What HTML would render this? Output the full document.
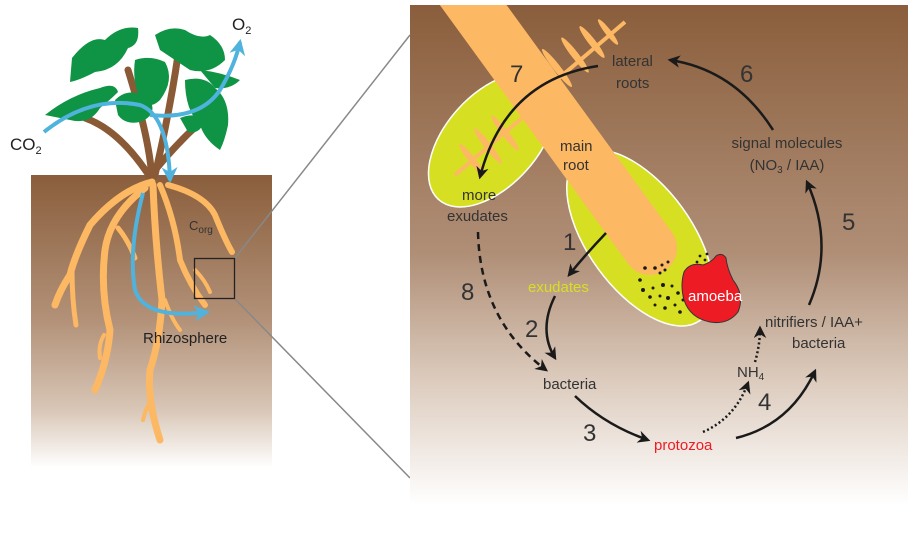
<!DOCTYPE html>
<html><head><meta charset="utf-8"><style>
html,body{margin:0;padding:0;background:#fff}
svg{display:block}
text{font-family:"Liberation Sans",sans-serif}
</style></head><body>
<svg width="914" height="537" viewBox="0 0 914 537" xmlns="http://www.w3.org/2000/svg">
<defs>
<linearGradient id="gl" x1="0" y1="0" x2="0" y2="1">
<stop offset="0" stop-color="#8a5e3c"/><stop offset="0.5" stop-color="#b39279"/><stop offset="0.8" stop-color="#d8c6b6"/><stop offset="1" stop-color="#fff"/></linearGradient>
<linearGradient id="gr" x1="0" y1="0" x2="0" y2="1">
<stop offset="0" stop-color="#8a5e3c"/><stop offset="0.5" stop-color="#b08f77"/><stop offset="0.75" stop-color="#dccbbd"/><stop offset="1" stop-color="#fff"/></linearGradient>
<clipPath id="cp"><rect x="410" y="5" width="498" height="500"/></clipPath>
<marker id="ab" viewBox="0 0 10 10" refX="8" refY="5" markerWidth="5" markerHeight="5" orient="auto"><path d="M0,0 L10,5 L0,10 L3,5z" fill="#1a1a1a"/></marker>
<marker id="aq" viewBox="0 0 10 10" refX="8" refY="5" markerWidth="4" markerHeight="4" orient="auto"><path d="M0,0 L10,5 L0,10 L3,5z" fill="#4fb3dd"/></marker>
</defs>
<rect x="31" y="175" width="241" height="293" fill="url(#gl)"/>
<g stroke="#8a5a36" stroke-width="7" fill="none" stroke-linecap="round">
<path d="M152,180 Q150,140 128,70"/><path d="M152,180 Q120,130 85,118"/><path d="M155,175 Q170,110 178,55"/><path d="M155,170 Q180,140 205,118"/>
</g>
<g fill="#0e9444">
<path d="M72,58 Q90,35 105,40 Q120,25 138,28 Q140,45 128,48 Q118,70 95,72 Q80,80 70,82z"/>
<path d="M45,115 Q70,95 100,88 Q115,82 118,92 Q110,100 100,108 Q90,125 70,120z"/>
<path d="M115,100 Q130,85 150,100 Q158,115 140,122 Q125,125 118,115z"/>
<path d="M135,60 Q150,55 165,62 Q175,80 160,100 Q150,110 140,100 Q132,80 135,60z"/>
<path d="M155,35 Q170,25 185,30 Q200,40 210,35 Q225,45 225,60 Q210,75 190,70 Q175,60 160,50z"/>
<path d="M185,80 Q205,75 215,88 Q230,100 228,125 Q225,140 220,150 Q205,140 200,125 Q185,110 185,80z"/>
<path d="M200,70 Q220,72 240,80 Q230,90 215,88z"/>
<path d="M180,118 Q195,112 205,120 Q200,135 188,132z"/>
</g>
<g stroke="#fdb863" fill="none" stroke-linecap="round" stroke-width="7">
<path d="M152,182 Q120,190 90,225 Q75,255 70,275 Q60,290 55,305"/>
<path d="M72,270 Q72,300 76,325" stroke-width="5"/>
<path d="M145,188 Q110,215 105,250 Q100,290 110,330 Q108,360 95,390"/>
<path d="M104,335 Q98,345 100,358" stroke-width="4"/>
<path d="M118,228 Q128,240 135,258" stroke-width="5"/>
<path d="M153,185 Q155,240 162,300 Q160,340 150,370 Q147,400 160,440"/>
<path d="M151,400 Q145,410 143,420" stroke-width="4"/>
<path d="M160,185 Q175,220 180,260 Q190,285 205,305" stroke-width="6"/>
<path d="M168,185 Q205,195 215,215 Q225,240 232,252" stroke-width="6"/>
<path d="M195,270 Q205,280 210,292" stroke-width="4"/>
<path d="M165,300 Q172,320 180,330" stroke-width="4"/>
</g>
<g stroke="#4fb3dd" stroke-width="4" fill="none">
<path d="M44,132 Q90,95 140,105 Q168,115 170,180" marker-end="url(#aq)"/>
<path d="M150,115 Q200,120 220,90 Q235,65 240,42" marker-end="url(#aq)"/>
<path d="M143,193 Q128,250 135,290 Q145,320 207,312" marker-end="url(#aq)"/>
</g>
<rect x="194.5" y="258.5" width="40" height="40" fill="none" stroke="#222" stroke-width="1.3"/>
<line x1="235" y1="258" x2="410" y2="35" stroke="#888" stroke-width="1.5"/>
<line x1="235" y1="299" x2="410" y2="478" stroke="#888" stroke-width="1.5"/>
<text x="10" y="150" font-size="17" fill="#222">CO<tspan font-size="11" dy="4">2</tspan></text>
<text x="232" y="30" font-size="17" fill="#222">O<tspan font-size="11" dy="4">2</tspan></text>
<text x="189" y="230" font-size="13" fill="#333">C<tspan font-size="10" dy="3">org</tspan></text>
<text x="143" y="343" font-size="15" fill="#222">Rhizosphere</text>
<rect x="410" y="5" width="498" height="500" fill="url(#gr)"/>
<g clip-path="url(#cp)">
<ellipse cx="492" cy="140" rx="80" ry="46" transform="rotate(-48 492 140)" fill="#d7df23" stroke="#fff" stroke-width="1.5"/>
<ellipse cx="640" cy="238" rx="102" ry="52" transform="rotate(54 640 238)" fill="#d7df23" stroke="#fff" stroke-width="1.5"/>
<line x1="455" y1="-20" x2="650" y2="248" stroke="#fdb863" stroke-width="54" stroke-linecap="round"/>
<g fill="#fdb863">
<line x1="545" y1="90" x2="625" y2="22" stroke="#fdb863" stroke-width="4"/>
<ellipse cx="557" cy="68" rx="24" ry="3.5" transform="rotate(52 557 68)"/>
<ellipse cx="575" cy="55" rx="22" ry="3.5" transform="rotate(52 575 55)"/>
<ellipse cx="592" cy="42" rx="20" ry="3.5" transform="rotate(52 592 42)"/>
<ellipse cx="608" cy="32" rx="16" ry="3" transform="rotate(52 608 32)"/>
<line x1="455" y1="175" x2="522" y2="118" stroke="#fdb863" stroke-width="4"/>
<ellipse cx="472" cy="160" rx="20" ry="3.5" transform="rotate(52 472 160)"/>
<ellipse cx="488" cy="146" rx="22" ry="3.5" transform="rotate(52 488 146)"/>
<ellipse cx="505" cy="133" rx="22" ry="3.5" transform="rotate(52 505 133)"/>
</g>
</g>
<g fill="#1a1a1a">
<circle cx="645" cy="268" r="1.8"/><circle cx="655" cy="268" r="1.8"/><circle cx="662" cy="265" r="1.5"/><circle cx="668" cy="262" r="1.5"/><circle cx="665" cy="270" r="1.5"/><circle cx="660" cy="273" r="1.5"/>
<circle cx="640" cy="280" r="1.8"/><circle cx="643" cy="290" r="2"/><circle cx="653" cy="288" r="1.5"/><circle cx="663" cy="285" r="2"/><circle cx="672" cy="286" r="1.5"/><circle cx="650" cy="297" r="1.8"/><circle cx="660" cy="296" r="1.5"/><circle cx="668" cy="298" r="2"/><circle cx="678" cy="293" r="1.8"/><circle cx="655" cy="305" r="1.5"/><circle cx="665" cy="308" r="1.8"/><circle cx="675" cy="305" r="1.5"/><circle cx="683" cy="300" r="1.5"/><circle cx="680" cy="312" r="1.8"/><circle cx="690" cy="309" r="1.5"/>
<circle cx="700" cy="256" r="1.4"/><circle cx="705" cy="260" r="1.4"/><circle cx="697" cy="262" r="1.4"/><circle cx="707" cy="254" r="1.4"/>
</g>
<path d="M684,272 Q690,262 703,265 Q712,262 716,256 Q722,252 726,258 Q727,268 733,280 Q745,295 738,312 Q728,325 710,322 Q690,318 684,300 Q680,285 684,272z" fill="#ed1c24" stroke="#333" stroke-width="1"/>
<g fill="none" stroke="#1a1a1a" stroke-width="2.5">
<path d="M773,130 Q735,70 670,60" marker-end="url(#ab)"/>
<path d="M598,66 Q505,80 480,177" marker-end="url(#ab)"/>
<path d="M809,305 Q835,245 807,182" marker-end="url(#ab)"/>
<path d="M606,233 Q585,255 569,275" marker-end="url(#ab)"/>
<path d="M555,296 Q538,330 555,358" marker-end="url(#ab)"/>
<path d="M478,232 Q480,320 546,370" stroke-dasharray="7,5" marker-end="url(#ab)"/>
<path d="M575,396 Q605,425 648,440" marker-end="url(#ab)"/>
<path d="M703,432 Q735,418 748,383" stroke-dasharray="2,2.5" marker-end="url(#ab)"/>
<path d="M755,362 Q760,345 760,328" stroke-dasharray="2,2.5" marker-end="url(#ab)"/>
<path d="M736,438 Q790,425 815,371" marker-end="url(#ab)"/>
</g>
<g font-size="15" fill="#333">
<text x="612" y="66">lateral</text><text x="616" y="88">roots</text>
<text x="560" y="151">main</text><text x="563" y="170">root</text>
<text x="787" y="148" text-anchor="middle">signal molecules</text>
<text x="787" y="170" text-anchor="middle">(NO<tspan font-size="10" dy="3">3</tspan><tspan dy="-3"> / IAA)</tspan></text>
<text x="462" y="200">more</text><text x="447" y="221">exudates</text>
<text x="528" y="292" fill="#d7df23">exudates</text>
<text x="688" y="301" fill="#fff">amoeba</text>
<text x="765" y="327">nitrifiers / IAA+</text><text x="792" y="348">bacteria</text>
<text x="737" y="377">NH<tspan font-size="10" dy="3">4</tspan></text>
<text x="543" y="389">bacteria</text>
<text x="654" y="450" fill="#ed1c24">protozoa</text>
</g>
<g font-size="24" fill="#333">
<text x="510" y="82">7</text><text x="740" y="82">6</text><text x="842" y="230">5</text>
<text x="563" y="250">1</text><text x="461" y="300">8</text><text x="525" y="337">2</text>
<text x="758" y="410">4</text><text x="583" y="441">3</text>
</g>
</svg>
</body></html>
